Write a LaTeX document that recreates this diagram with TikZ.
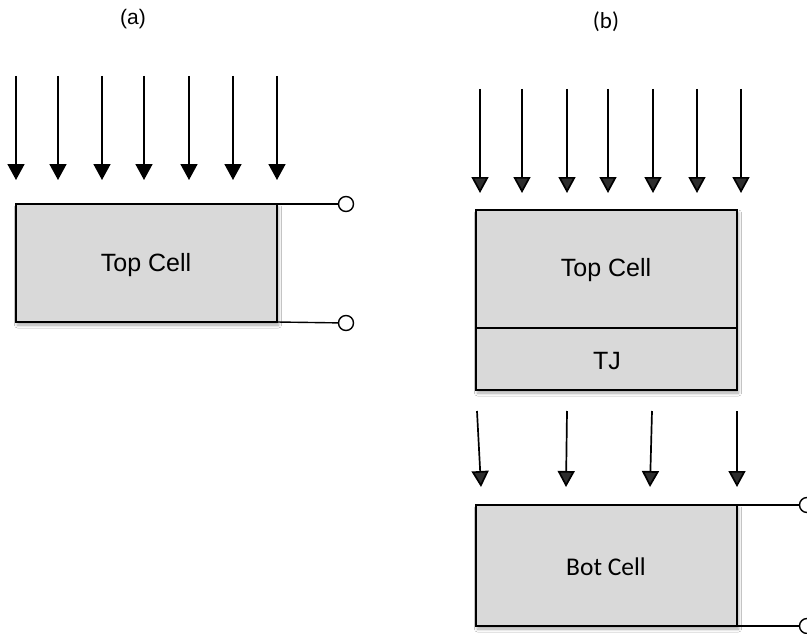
\documentclass[tikz,border=0pt]{standalone}
\usepackage{fontspec}
\setmainfont{Liberation Sans}
\newfontfamily\calib{Carlito}
\usetikzlibrary{arrows.meta,shadows.blur}

\definecolor{cellgray}{HTML}{D9D9D9}
\tikzset{
  ray/.style={line width=1.7pt, -{Triangle[width=17pt,length=16pt]}},
  cellbox/.style={draw=black, line width=1.6pt, fill=cellgray,
    blur shadow={shadow xshift=1.5pt, shadow yshift=-3pt, shadow blur radius=3pt,
      shadow opacity=35, shadow blur steps=6}},
  wire/.style={line width=1.4pt},
  term/.style={circle, draw=black, fill=white, line width=1.4pt,
    minimum size=15pt, inner sep=0pt},
  celltext/.style={font=\fontsize{25}{30}\selectfont},
  paneltext/.style={font=\fontsize{21}{25}\selectfont},
}

\begin{document}
\begin{tikzpicture}[x=1pt,y=-1pt]
\clip (0,0) rectangle (807,634);
\fill[white] (0,0) rectangle (807,634);

% ---------- panel (a): single cell ----------
\node[paneltext] (la) at (133,19) {(a)};

\foreach \i/\x in {1/16,2/58,3/102,4/144,5/189,6/233,7/277} {
  \coordinate (as\i) at (\x,76);
  \coordinate (ae\i) at (\x,180);
  \draw[ray] (as\i) -- (ae\i);
}

\draw[cellbox] (16,204) rectangle (277,322);
\coordinate (aTR) at (277,204);
\coordinate (aBR) at (277,322);
\node[celltext] (atop) at (146,265) {Top Cell};

\node[term] (at1) at (346,204) {};
\node[term] (at2) at (346,323) {};
\draw[wire] (aTR) -- (at1);
\draw[wire] (aBR) -- (at2);

% ---------- panel (b): tandem stack ----------
\node[font=\calib\fontsize{23}{27}\selectfont] (lb) at (606,22) {(b)};

\foreach \i/\x in {1/480,2/522,3/567,4/608,5/653,6/697,7/741} {
  \coordinate (bs\i) at (\x,89);
  \coordinate (be\i) at (\x,193);
  \draw[ray] (bs\i) -- (be\i);
}

\draw[cellbox] (476,210) rectangle (737,390);
\draw[line width=1.6pt] (476,328) -- (737,328);
\node[celltext] (btop) at (606,270) {Top Cell};
\node[celltext] (btj) at (607,361) {TJ};

% light passing through to the bottom cell
\coordinate (ts1) at (477,411); \coordinate (te1) at (481,487);
\coordinate (ts2) at (567,411); \coordinate (te2) at (566,487);
\coordinate (ts3) at (652,411); \coordinate (te3) at (650,487);
\coordinate (ts4) at (737,411); \coordinate (te4) at (737,487);
\foreach \i in {1,...,4} {\draw[ray] (ts\i) -- (te\i);}

\draw[cellbox] (476,505) rectangle (737,626);
\coordinate (bTR) at (737,505);
\coordinate (bBR) at (737,626);
\node[font=\calib\fontsize{25.5}{30}\selectfont] (bbot) at (606,567) {Bot Cell};

\node[term] (bt1) at (807,505) {};
\node[term] (bt2) at (807,626) {};
\draw[wire] (bTR) -- (bt1);
\draw[wire] (bBR) -- (bt2);
\end{tikzpicture}
\end{document}
